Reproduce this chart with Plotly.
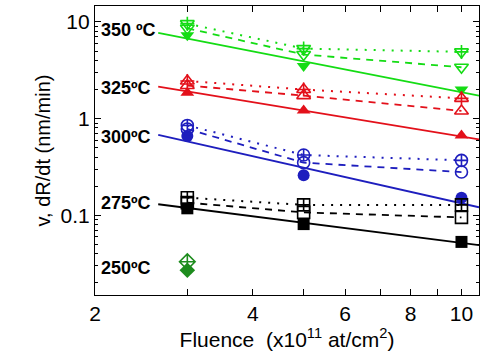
import plotly.graph_objects as go
import numpy as np

fluence = [3, 5, 10]
fit_x = [2.64, 10.8]

# 350 C
t350_fit = [7.7, 1.73]
t350_filled = [7.3, 3.5, 2.0]
t350_open = [8.6, 4.6, 3.4]
t350_cross = [9.6, 5.3, 4.9]
# 325 C
t325_fit = [2.14, 0.61]
t325_filled = [1.85, 1.21, 0.67]
t325_open = [2.2, 1.73, 1.2]
t325_cross = [2.45, 2.0, 1.62]
# 300 C
t300_fit = [0.68, 0.121]
t300_filled = [0.66, 0.26, 0.152]
t300_open = [0.78, 0.35, 0.28]
t300_cross = [0.85, 0.42, 0.37]
# 275 C
t275_fit = [0.13, 0.049]
t275_filled = [0.118, 0.081, 0.053]
t275_open = [0.135, 0.107, 0.095]
t275_cross = [0.152, 0.128, 0.128]
# 250 C
f250 = [3]
t250_filled = [0.027]
t250_cross = [0.033]

labels = ["350 ºC", "325ºC", "300ºC", "275ºC", "250ºC"]
label_py = [30, 88, 137, 203, 268]

GREEN = "#14DC14"
RED = "#E3101A"
BLUE = "#1E1EBE"
BLACK = "#000000"
DGREEN = "#1E8C1E"

fig = go.Figure()

def add_group(color, fit, filled, opn, cross, sym):
    fig.add_trace(go.Scatter(x=fit_x, y=fit, mode="lines",
                             line=dict(color=color, width=1.8), showlegend=False))
    fig.add_trace(go.Scatter(x=fluence, y=opn, mode="lines",
                             line=dict(color=color, width=1.8, dash="7px,6px"), showlegend=False))
    fig.add_trace(go.Scatter(x=fluence, y=cross, mode="lines",
                             line=dict(color=color, width=2, dash="2px,7px"), showlegend=False))
    fig.add_trace(go.Scatter(x=fluence, y=filled, mode="markers",
                             marker=dict(symbol=sym, size=12, color=color), showlegend=False))
    fig.add_trace(go.Scatter(x=fluence, y=opn, mode="markers",
                             marker=dict(symbol=sym + "-open", size=12, color=color,
                                         line=dict(width=1.6, color=color)), showlegend=False))
    if sym in ("circle", "square", "diamond"):
        fig.add_trace(go.Scatter(x=fluence, y=cross, mode="markers",
                                 marker=dict(symbol=sym + "-cross-open", size=12, color=color,
                                             line=dict(width=1.6, color=color)), showlegend=False))
    else:
        fig.add_trace(go.Scatter(x=fluence, y=cross, mode="markers",
                                 marker=dict(symbol=sym + "-open", size=12, color=color,
                                             line=dict(width=1.6, color=color)), showlegend=False))
        fig.add_trace(go.Scatter(x=fluence, y=cross, mode="markers",
                                 marker=dict(symbol="cross-thin-open", size=10, color=color,
                                             line=dict(width=1.6, color=color)), showlegend=False))

add_group(GREEN, t350_fit, t350_filled, t350_open, t350_cross, "triangle-down")
add_group(RED, t325_fit, t325_filled, t325_open, t325_cross, "triangle-up")
add_group(BLUE, t300_fit, t300_filled, t300_open, t300_cross, "circle")
add_group(BLACK, t275_fit, t275_filled, t275_open, t275_cross, "square")

fig.add_trace(go.Scatter(x=f250, y=t250_filled, mode="markers",
                         marker=dict(symbol="diamond", size=12, color=DGREEN), showlegend=False))
fig.add_trace(go.Scatter(x=f250, y=t250_cross, mode="markers",
                         marker=dict(symbol="diamond-cross-open", size=12, color=DGREEN,
                                     line=dict(width=1.6, color=DGREEN)), showlegend=False))

W, H = 481, 364
L, R, T, B = 95, 2, 6, 69
ph = H - T - B
for lab, py in zip(labels, label_py):
    fig.add_annotation(text="<b>" + lab + "</b>", xref="paper", yref="paper",
                       x=(99 - L) / (W - L - R), y=(H - B - py) / ph,
                       xanchor="left", yanchor="middle", showarrow=False,
                       font=dict(size=18, color="black", family="Arial, Liberation Sans"))

minor_y = [k * 10.0 ** n for n in (-2, -1, 0, 1) for k in range(2, 10)]

fig.update_layout(
    width=W, height=H,
    margin=dict(l=L, r=R, t=T, b=B),
    paper_bgcolor="white", plot_bgcolor="white",
    font=dict(family="Arial, Liberation Sans", color="black"),
    xaxis=dict(type="log", range=[np.log10(2), np.log10(10.8)],
               tickvals=[2, 4, 6, 8, 10], ticktext=["2", "4", "6", "8", "10"],
               ticks="inside", ticklen=6, tickwidth=1.2, tickcolor="black",
               minor=dict(tickvals=[3, 5, 7, 9], ticks="inside", ticklen=6, tickcolor="black"),
               showline=True, linecolor="black", linewidth=1.2, mirror="allticks",
               showgrid=False, zeroline=False,
               tickfont=dict(size=21),
               title=dict(text="Fluence  (x10<sup>11</sup> at/cm<sup>2</sup>)",
                          font=dict(size=21), standoff=6)),
    yaxis=dict(type="log", range=[-1.825, 1.165],
               tickvals=[0.1, 1, 10], ticktext=["0.1", "1", "10"],
               ticks="inside", ticklen=6, tickwidth=1.2, tickcolor="black",
               minor=dict(tickvals=minor_y, ticks="inside", ticklen=3, tickcolor="black"),
               showline=True, linecolor="black", linewidth=1.2, mirror="allticks",
               showgrid=False, zeroline=False,
               tickfont=dict(size=21),
               title=dict(text="v, dR/dt (nm/min)", font=dict(size=20), standoff=4)),
)

fig.write_html("out.html")
